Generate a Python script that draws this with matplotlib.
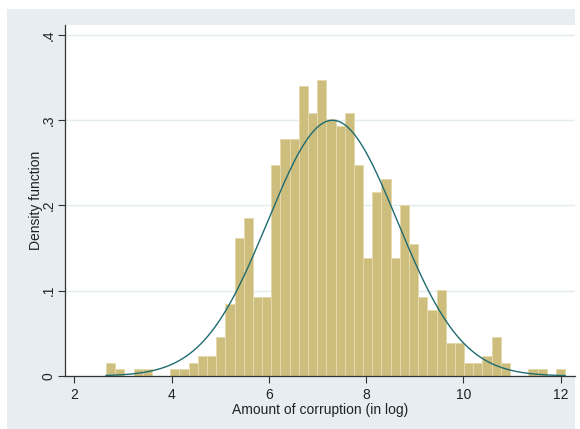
import numpy as np
import matplotlib
matplotlib.use("Agg")
import matplotlib.pyplot as plt
from matplotlib.patches import Rectangle

plt.rcParams['font.family'] = ['Liberation Sans', 'DejaVu Sans']

# ---- data ----
bin_start = 2.651
bin_width = 0.1888
counts = [2, 1, 0, 1, 1, 0, 0, 1, 1, 2,
          3, 3, 6, 11, 21, 24, 12, 12, 32, 36,
          36, 44, 40, 45, 39, 38, 40, 32, 18, 28,
          30, 18, 26, 20, 12, 10, 13, 5, 5, 2,
          2, 3, 6, 2, 0, 0, 1, 1, 0, 1]
norm_mean = 7.31
norm_sd = 1.33
x_ticks = [2, 4, 6, 8, 10, 12]
y_ticks = [0, 0.1, 0.2, 0.3, 0.4]
y_tick_labels = ["0", ".1", ".2", ".3", ".4"]

counts = np.array(counts)
edges = bin_start + bin_width * np.arange(len(counts) + 1)
density = counts / (counts.sum() * bin_width)

fig = plt.figure(figsize=(5.8, 4.29), dpi=100, facecolor="white")
# outer graph region (Stata style light background)
bg = Rectangle((7 / 580, 0), 568 / 580, 1 - 9 / 429,
               transform=fig.transFigure, facecolor="#E6EEF1",
               edgecolor="none", zorder=-10)
fig.patches.append(bg)

ax = fig.add_axes([65 / 580, 1 - 376 / 429, 510 / 580, 351 / 429])
ax.set_zorder(1)
ax.set_facecolor("white")

ax.bar(edges[:-1], density, width=bin_width, align="edge",
       color="#CDBE7E", edgecolor="#E3D9AC", linewidth=0.7, zorder=2)

xs = np.linspace(edges[0], edges[-1], 400)
ys = np.exp(-0.5 * ((xs - norm_mean) / norm_sd) ** 2) / (norm_sd * np.sqrt(2 * np.pi))
ax.plot(xs, ys, color="#1F6B70", linewidth=1.0, zorder=3)

ax.set_xlim(1.809, 12.294)
ax.set_ylim(0, 0.4117)
ax.set_xticks(x_ticks)
ax.set_yticks(y_ticks)
ax.set_yticklabels(y_tick_labels, rotation=90, va="center")
ax.grid(axis="y", color="#E3ECEF", linewidth=1.0, zorder=1)
ax.set_axisbelow(True)

for side in ["top", "right"]:
    ax.spines[side].set_visible(False)
for side in ["left", "bottom"]:
    ax.spines[side].set_color("#333333")
    ax.spines[side].set_linewidth(0.9)

ax.tick_params(axis="both", colors="#333333", labelcolor="#222222",
               labelsize=10, length=5, width=0.8)
ax.tick_params(axis="y", pad=2)
ax.set_xlabel("Amount of corruption (in log)", fontsize=10, color="#222222", labelpad=1)
ax.set_ylabel("Density function", fontsize=10, color="#222222", labelpad=-1)

fig.savefig("out.png", dpi=100, facecolor=fig.get_facecolor())
